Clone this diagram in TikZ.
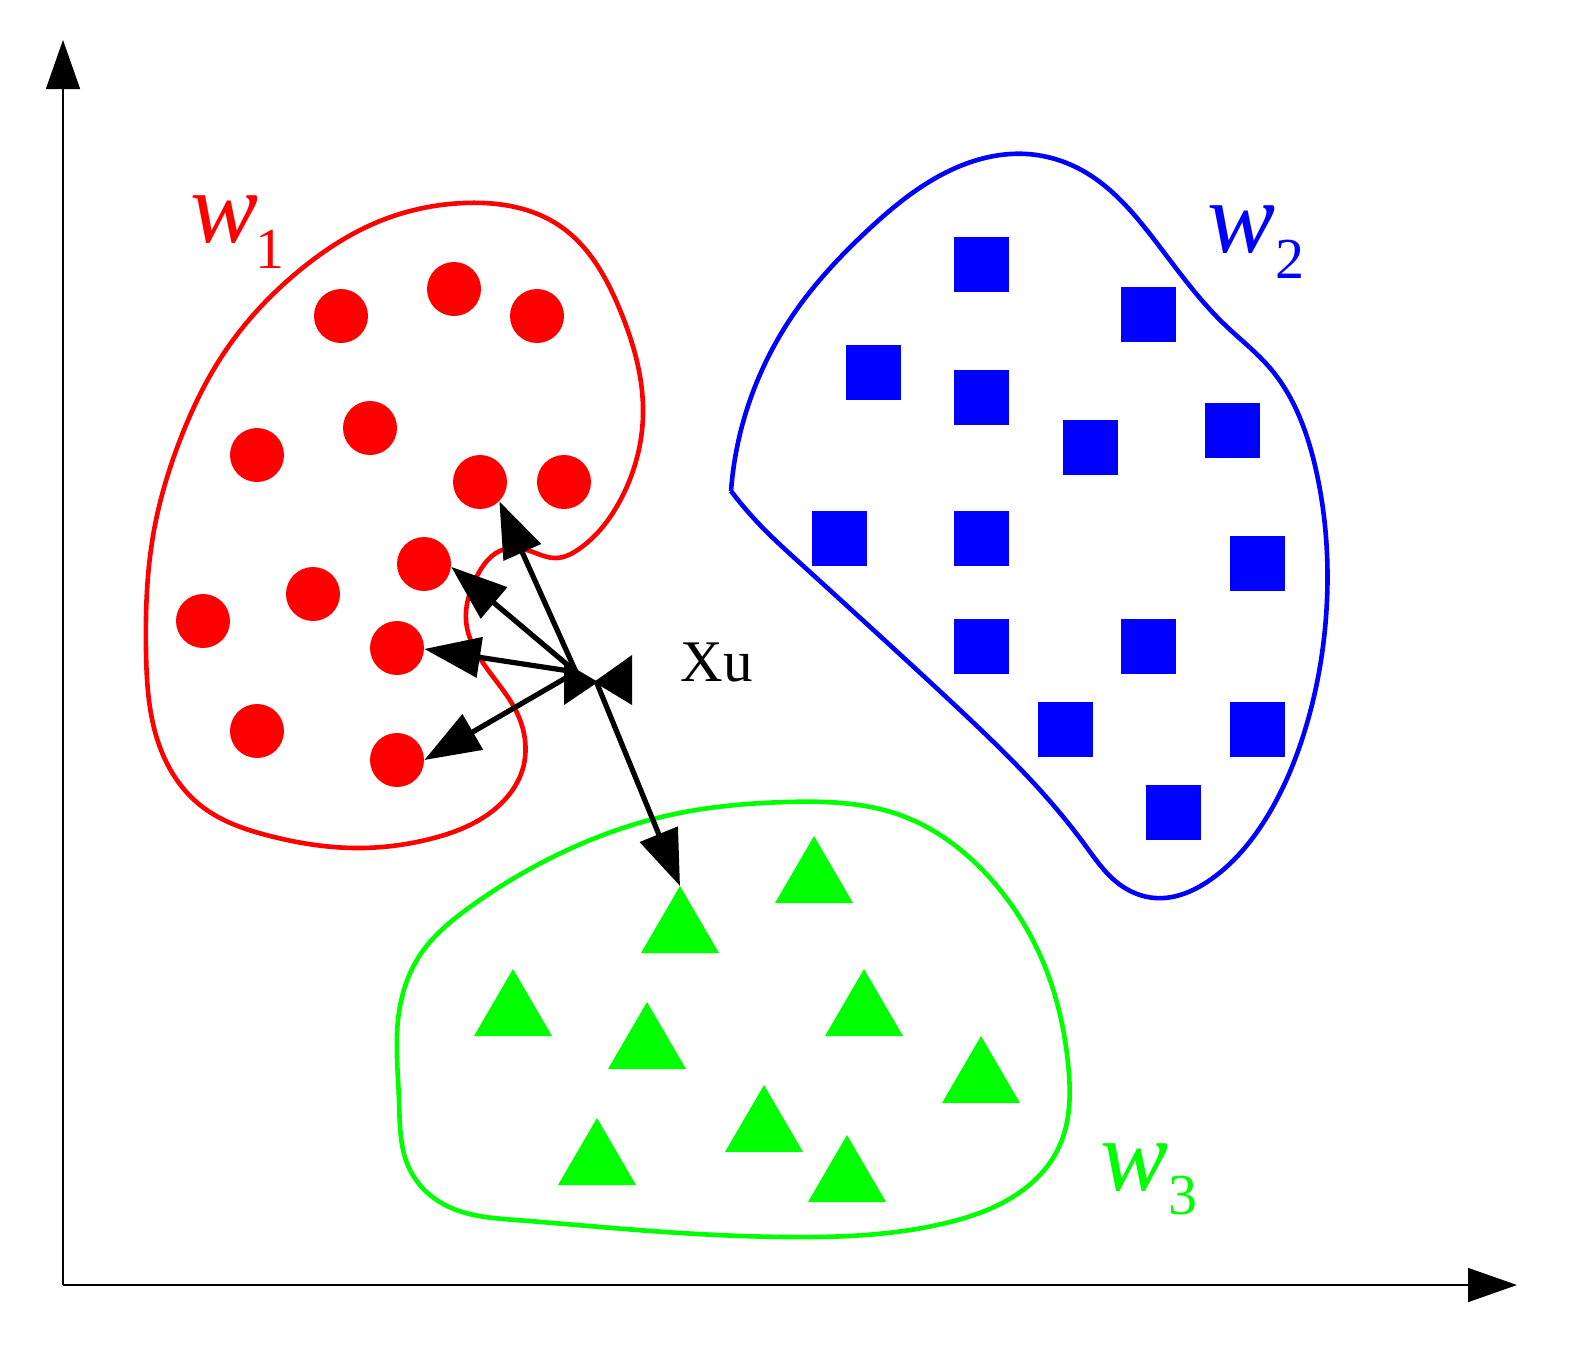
\documentclass[tikz,border=0pt]{standalone}
\usepackage{fontspec}
\setmainfont{Liberation Serif}
\usetikzlibrary{arrows.meta,hobby}
\definecolor{cred}{RGB}{255,0,0}
\definecolor{cblue}{RGB}{0,0,255}
\definecolor{cgreen}{RGB}{0,255,0}
\begin{document}
\begin{tikzpicture}[x=0.5pt,y=-0.5pt,
  dot/.style={circle,fill=cred,inner sep=0pt,minimum size=27pt},
  sq/.style={rectangle,fill=cblue,inner sep=0pt,minimum size=27.5pt},
  arr/.style={line width=2.6pt,-{Triangle[length=28pt,width=20pt]}},
  axarr/.style={line width=0.75pt,-{Triangle[length=24.5pt,width=17pt]}},
  outline/.style={line width=2.3pt,use Hobby shortcut},
  wlab/.style={anchor=base west,inner sep=0pt,font=\fontsize{51}{51}\selectfont\itshape},
  sublab/.style={anchor=base west,inner sep=0pt,font=\fontsize{29}{29}\selectfont}]
\useasboundingbox (0,0) rectangle (1570,1356);

% axes
\coordinate (o) at (63,1285);
\coordinate (ytop) at (63,40);
\coordinate (xend) at (1517,1285);
\draw[axarr] (o) -- (ytop);
\draw[axarr] (o) -- (xend);

% cluster outlines
\draw[outline,cred,closed=true] (464,203) .. (560,226) .. (620,310) .. (643,415) .. (622,497) .. (579,549) .. (556,558) .. (530,551) .. (505,549) .. (476,578) .. (466,620) .. (488,670) .. (518,715) .. (523,768) .. (495,809) .. (430,839) .. (355,848) .. (270,836) .. (200,805) .. (161,750) .. (146,650) .. (153,536) .. (180,440) .. (226,350) .. (300,270) .. (380,221);
\draw[outline,cblue,line join=round] (731,491) .. (760,525) .. (800,563) .. (880,636) .. (960,710) .. (1040,790) .. (1085,845) .. (1119,884) .. (1155,898) .. (1210,880) .. (1265,820) .. (1305,730) .. (1327,600) .. (1316,470) .. (1270,368) .. (1224,324) .. (1153,238) .. (1085,172) .. (1027,154) .. (951,170) .. (868,230) .. (795,312) .. (750,400) .. (731,491);
\draw[outline,cgreen,closed=true] (787,802) .. (900,815) .. (990,878) .. (1050,980) .. (1068,1063) .. (1059,1147) .. (1023,1190) .. (946,1223) .. (787,1237) .. (651,1231) .. (516,1220) .. (445,1205) .. (410,1170) .. (399,1100) .. (398,1020) .. (420,955) .. (470,907) .. (561,853) .. (670,815);

% red dots
\node[dot] (r1) at (341,316) {};
\node[dot] (r2) at (454,289) {};
\node[dot] (r3) at (537,316) {};
\node[dot] (r4) at (257,455) {};
\node[dot] (r5) at (370,428) {};
\node[dot] (r6) at (480,482) {};
\node[dot] (r7) at (564,482) {};
\node[dot] (r8) at (424,564) {};
\node[dot] (r9) at (313,594) {};
\node[dot] (r10) at (203,621) {};
\node[dot] (r11) at (397,648) {};
\node[dot] (r12) at (257,731) {};
\node[dot] (r13) at (397,760) {};

% blue squares
\foreach \x/\y [count=\i] in {981/264,1148/314,873/372,981/397,1090/447,1232/430,839/538,981/538,1257/563,981/646,1148/646,1065/729,1257/729,1173/812}
  \node[sq] (b\i) at (\x,\y) {};

% green triangles (apex coordinates)
\foreach \x/\y [count=\i] in {680/886,814/836,513/969,647/1002,864/969,981/1036,764/1085,597/1118,847/1135}
{
  \coordinate (g\i) at (\x,\y);
  \fill[cgreen] (g\i) -- ++(-39,67) -- ++(78,0) -- cycle;
}

% Xu point and arrows
\coordinate (xa) at (576,672);
\coordinate (xu) at (596,681);
\draw[arr] (xa) -- (r6.-45);
\draw[arr] (xa) -- (r8.-6);
\draw[arr] (xa) -- (r11.-2);
\draw[arr] (xa) -- (r13.0);
\draw[arr] (xu) -- (g1);
\fill (564,662) -- (598,682) -- (564,705) -- cycle;
\fill (632,655) -- (594,682) -- (632,705) -- cycle;
\node[anchor=base west,inner sep=0pt,font=\fontsize{29.5}{29.5}\selectfont] (xulab) at (680,681) {Xu};

% labels
\node[wlab,text=cred] (w1) at (190,242) {w};
\node[sublab,text=cred] (s1) at (255,268) {1};
\node[wlab,text=cblue] (w2) at (1207,252) {w};
\node[sublab,text=cblue] (s2) at (1275,278) {2};
\node[wlab,text=cgreen] (w3) at (1100,1190) {w};
\node[sublab,text=cgreen] (s3) at (1168,1214) {3};
\end{tikzpicture}
\end{document}
